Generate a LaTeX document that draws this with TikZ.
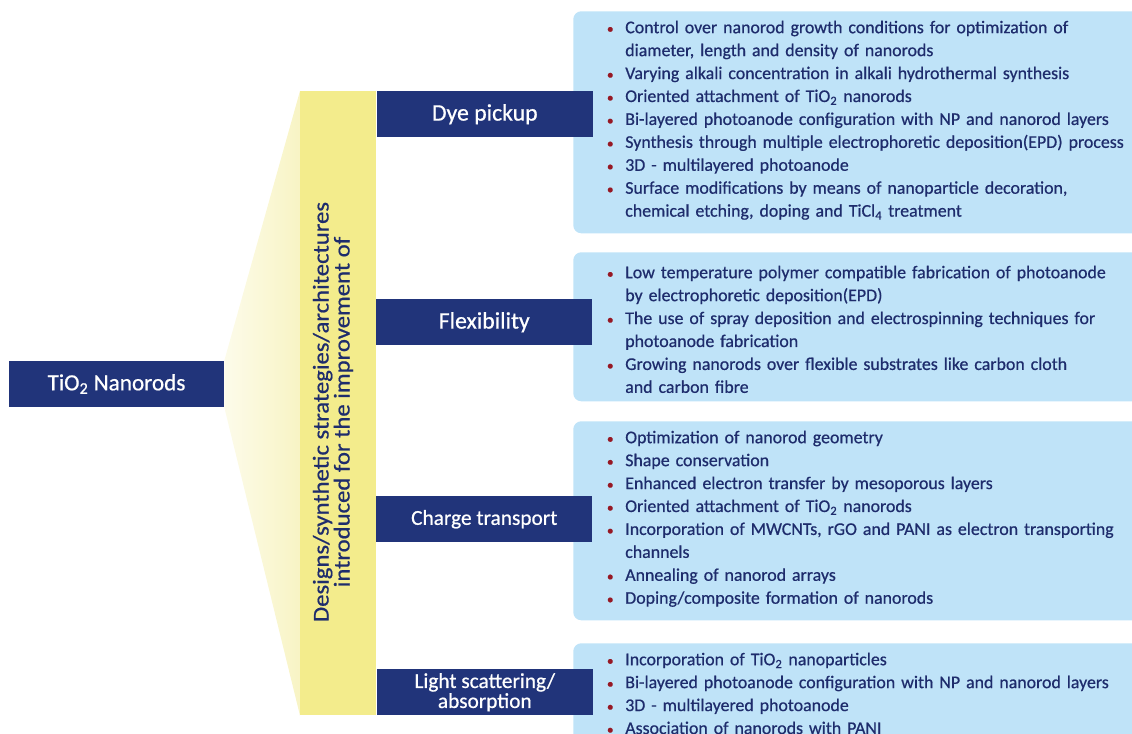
\documentclass[tikz,border=0pt]{standalone}
\usepackage{fontspec}
\setmainfont{Carlito}[FakeBold=0.6]
\usepackage{graphicx}
\usetikzlibrary{positioning}

\definecolor{navy}{RGB}{33,52,122}
\definecolor{inkblue}{RGB}{30,44,108}
\definecolor{panelblue}{RGB}{191,227,248}
\definecolor{bandyellow}{RGB}{243,236,140}
\definecolor{fanyellow}{RGB}{248,244,196}
\definecolor{dotred}{RGB}{150,24,36}

% bullet with hanging indent, \newline for a second line
\newcommand{\blt}{\par\hangindent=14.25pt\hangafter=1\noindent
  \makebox[14.25pt][l]{\hspace{0.5pt}\textcolor{dotred}{\scalebox{0.75}{\textbullet}}}%
  \rule{0pt}{12pt}}

\tikzset{
  headbox/.style={fill=navy, text=white, minimum width=162pt, minimum height=34.5pt,
    inner sep=0pt, align=center, font=\fontsize{16}{15}\selectfont},
  bighead/.style={headbox, font=\fontsize{17.8}{15}\selectfont},
  panel/.style={fill=panelblue, rounded corners=6pt, minimum width=450pt,
    inner sep=0pt, anchor=north west},
  items/.style={anchor=north west, inner sep=0pt, text width=420pt, align=left,
    text=inkblue, font=\fontsize{13.4}{17.2}\selectfont},
}

\begin{document}
\begin{tikzpicture}[x=0.75pt,y=-0.75pt]
  \path[use as bounding box] (0,0) rectangle (1132,734);
  \clip (0,0) rectangle (1132,734);

  % root and band
  \node[headbox, minimum width=161.25pt, font=\fontsize{17.4}{15}\selectfont]
    (tio2) at (116.5,384) {TiO\textsubscript{2} Nanorods};
  \node[fill=bandyellow, minimum width=57pt, minimum height=468pt, inner sep=0pt,
    anchor=north west] (band) at (300,91) {};
  \shade[left color=fanyellow!35, right color=fanyellow]
    (tio2.north east) -- (band.north west) -- (band.south west) -- (tio2.south east) -- cycle;
  \node[rotate=90, text=inkblue, align=center, font=\fontsize{17}{13.5}\selectfont]
    (bandtext) at (333,412) {\scalebox{1.09}[1]{Designs/synthetic strategies/architectures}\\
      \scalebox{1.09}[1]{introduced for the improvement of}};

  % panels
  \node[panel, minimum height=166.5pt] (p1) at (573,11) {};
  \node[panel, minimum height=111.75pt] (p2) at (573,252) {};
  \node[panel, minimum height=149.25pt] (p3) at (573,421) {};
  \node[panel, minimum height=90pt] (p4) at (573,643) {};

  % headers
  \node[bighead, anchor=north west] (dye) at (band.north east) {Dye pickup};
  \node[bighead, anchor=north west] (flex) at (376,299) {Flexibility};
  \node[headbox, anchor=north west] (charge) at (376,496) {Charge transport};
  \node[headbox, anchor=south west] (light) at (band.south east) {Light scattering/\\absorption};

  % lists
  \node[items] (dyetext) at (606,10) {%
    \blt Control over nanorod growth conditions for optimization of\newline
      diameter, length and density of nanorods
    \blt Varying alkali concentration in alkali hydrothermal synthesis
    \blt Oriented attachment of TiO\textsubscript{2} nanorods
    \blt Bi-layered photoanode configuration with NP and nanorod layers
    \blt Synthesis through multiple electrophoretic deposition(EPD) process
    \blt 3D - multilayered photoanode
    \blt Surface modifications by means of nanoparticle decoration,\newline
      chemical etching, doping and TiCl\textsubscript{4} treatment\par};
  \node[items] (flextext) at (606,255) {%
    \blt Low temperature polymer compatible fabrication of photoanode\newline
      by electrophoretic deposition(EPD)
    \blt The use of spray deposition and electrospinning techniques for\newline
      photoanode fabrication
    \blt Growing nanorods over flexible substrates like carbon cloth\newline
      and carbon fibre\par};
  \node[items] (chargetext) at (606,420) {%
    \blt Optimization of nanorod geometry
    \blt Shape conservation
    \blt Enhanced electron transfer by mesoporous layers
    \blt Oriented attachment of TiO\textsubscript{2} nanorods
    \blt Incorporation of MWCNTs, rGO and PANI as electron transporting\newline
      channels
    \blt Annealing of nanorod arrays
    \blt Doping/composite formation of nanorods\par};
  \node[items] (lighttext) at (606,642) {%
    \blt Incorporation of TiO\textsubscript{2} nanoparticles
    \blt Bi-layered photoanode configuration with NP and nanorod layers
    \blt 3D - multilayered photoanode
    \blt Association of nanorods with PANI\par};
\end{tikzpicture}
\end{document}
